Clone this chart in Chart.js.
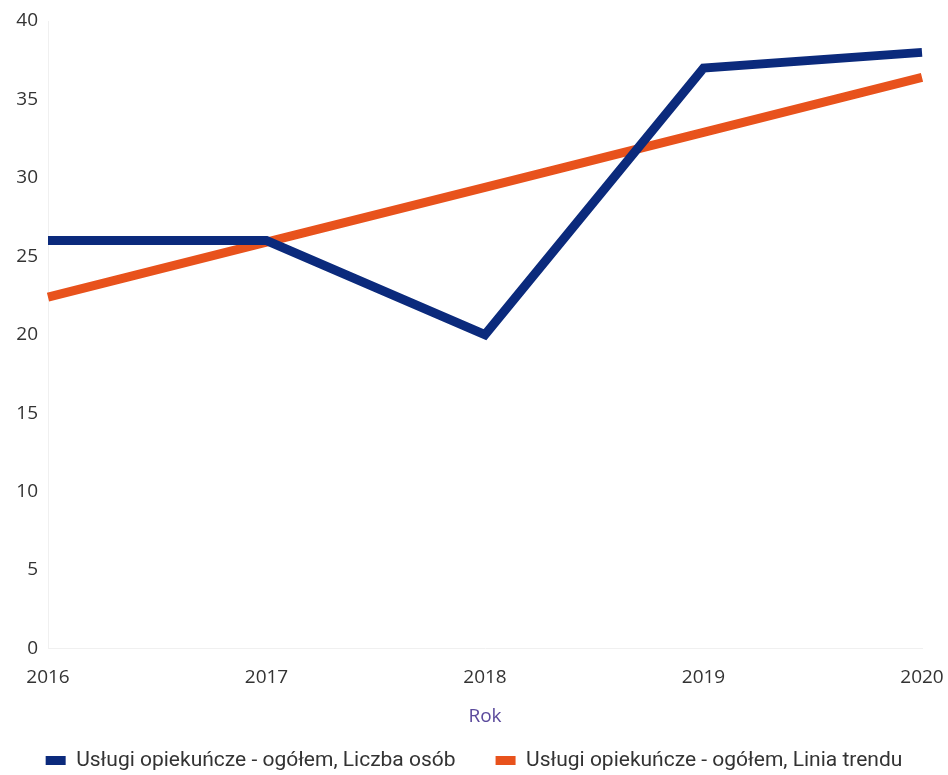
<!DOCTYPE html>
<html>
<head>
<meta charset="utf-8">
<script src="https://cdn.jsdelivr.net/npm/chart.js@4/dist/chart.umd.min.js"></script>
<style>
  html, body { margin: 0; padding: 0; background: #fff; }
  #wrap { width: 948px; height: 775px; }
</style>
</head>
<body>
<div id="wrap"><canvas id="myChart"></canvas></div>
<script>
const years = ['2016', '2017', '2018', '2019', '2020'];
const liczbaOsob = [26, 26, 20, 37, 38];
const liniaTrendu = [22.4, 25.9, 29.4, 32.9, 36.4];
const yTicks = [0, 5, 10, 15, 20, 25, 30, 35, 40];

const ctx = document.getElementById('myChart').getContext('2d');
new Chart(ctx, {
    type: 'line',
    data: {
        labels: years,
        datasets: [{
            label: 'Usługi opiekuńcze - ogółem, Liczba osób',
            data: liczbaOsob,
            borderColor: '#0b2a7c',
            backgroundColor: '#0b2a7c',
            borderWidth: 9,
            pointRadius: 0,
            tension: 0
        }, {
            label: 'Usługi opiekuńcze - ogółem, Linia trendu',
            data: liniaTrendu,
            borderColor: '#e8521c',
            backgroundColor: '#e8521c',
            borderWidth: 9,
            pointRadius: 0,
            tension: 0
        }]
    },
    options: {
        responsive: true,
        maintainAspectRatio: false,
        animation: false,
        // legend needs a wide item gap; negative paddings win back the height it adds
        layout: { padding: { top: 21, right: 0, left: 0, bottom: -6 } },
        plugins: {
            legend: {
                position: 'bottom',
                align: 'center',
                labels: {
                    boxWidth: 20,
                    boxHeight: 9,
                    padding: 40,
                    color: '#333',
                    font: { family: 'Roboto', size: 21 },
                    generateLabels: chart => Chart.defaults.plugins.legend.labels.generateLabels(chart)
                        .map(item => Object.assign(item, { lineWidth: 0 }))
                }
            },
            tooltip: { enabled: false }
        },
        scales: {
            x: {
                offset: false,
                afterFit: axis => { axis.paddingRight = 26; },
                grid: { display: false },
                border: { color: '#f0f0f0' },
                ticks: {
                    color: '#333',
                    maxRotation: 0,
                    padding: 10,
                    font: { family: 'Open Sans', size: 19 }
                },
                title: {
                    display: true,
                    text: 'Rok',
                    color: '#5b4a9c',
                    padding: { top: 6, bottom: -18 },
                    font: { family: 'Open Sans', size: 19 }
                }
            },
            y: {
                min: 0,
                max: 40,
                afterBuildTicks: axis => { axis.ticks = yTicks.map(v => ({ value: v })); },
                afterFit: axis => { axis.width = 48; },
                grid: { display: false },
                border: { color: '#f0f0f0' },
                ticks: {
                    color: '#333',
                    padding: 2,
                    font: { family: 'Open Sans', size: 19 }
                }
            }
        }
    }
});
</script>
</body>
</html>
